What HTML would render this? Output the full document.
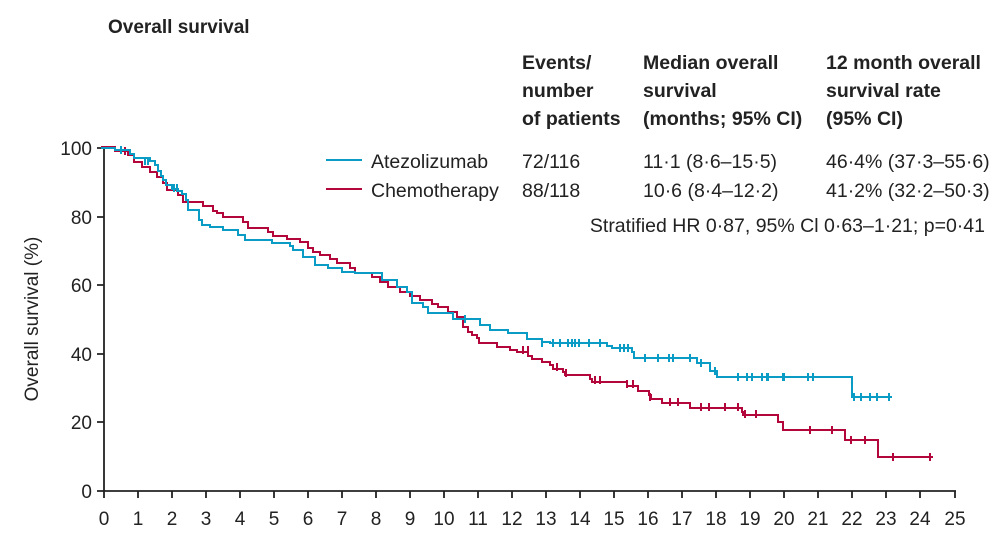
<!DOCTYPE html>
<html><head><meta charset="utf-8"><style>
body{margin:0;background:#fff;}
svg{display:block;font-family:"Liberation Sans",sans-serif;}
</style></head><body>
<svg width="1000" height="538" viewBox="0 0 1000 538" xmlns="http://www.w3.org/2000/svg">
<text x="108" y="33" font-size="19" font-weight="bold" fill="#222">Overall survival</text>
<g font-size="19.5" font-weight="bold" fill="#222">
<text x="522" y="69">Events/</text><text x="522" y="97">number</text><text x="522" y="125">of patients</text>
<text x="643" y="69">Median overall</text><text x="643" y="97">survival</text><text x="643" y="125">(months; 95% CI)</text>
<text x="826" y="69">12 month overall</text><text x="826" y="97">survival rate</text><text x="826" y="125">(95% CI)</text>
</g>
<g font-size="19.5" fill="#222">
<text x="371" y="168">Atezolizumab</text><text x="371" y="197">Chemotherapy</text>
<text x="522" y="168">72/116</text><text x="522" y="197">88/118</text>
<text x="643" y="168">11·1 (8·6–15·5)</text><text x="643" y="197">10·6 (8·4–12·2)</text>
<text x="826" y="168">46·4% (37·3–55·6)</text><text x="826" y="197">41·2% (32·2–50·3)</text>
<text x="985" y="232" text-anchor="end">Stratified HR 0·87, 95% Cl 0·63–1·21; p=0·41</text>
</g>
<line x1="326" y1="160" x2="362" y2="160" stroke="#0a9cc4" stroke-width="2"/>
<line x1="326" y1="189" x2="362" y2="189" stroke="#b3063a" stroke-width="2"/>
<!-- axes -->
<g stroke="#222" stroke-width="1.8" fill="none">
<line x1="104" y1="147" x2="104" y2="492"/>
<line x1="103" y1="491" x2="956" y2="491"/>
<path d="M97 148H104M97 217H104M97 285H104M97 354H104M97 422H104M97 491H104"/>
<path d="M104 491v7M138 491v7M172 491v7M206 491v7M240 491v7M274 491v7M308 491v7M342 491v7M376 491v7M410 491v7M444 491v7M478 491v7M512 491v7M546 491v7M580 491v7M614 491v7M648 491v7M682 491v7M716 491v7M750 491v7M784 491v7M818 491v7M852 491v7M886 491v7M920 491v7M955 491v7"/>
</g>
<g font-size="19" fill="#222" text-anchor="end">
<text x="92" y="155">100</text><text x="92" y="224">80</text><text x="92" y="292">60</text><text x="92" y="361">40</text><text x="92" y="429">20</text><text x="92" y="498">0</text>
</g>
<g font-size="19" fill="#222" text-anchor="middle">
<text x="104" y="525">0</text><text x="138" y="525">1</text><text x="172" y="525">2</text><text x="206" y="525">3</text><text x="240" y="525">4</text><text x="274" y="525">5</text><text x="308" y="525">6</text><text x="342" y="525">7</text><text x="376" y="525">8</text><text x="410" y="525">9</text><text x="444" y="525">10</text><text x="478" y="525">11</text><text x="512" y="525">12</text><text x="546" y="525">13</text><text x="580" y="525">14</text><text x="614" y="525">15</text><text x="648" y="525">16</text><text x="682" y="525">17</text><text x="716" y="525">18</text><text x="750" y="525">19</text><text x="784" y="525">20</text><text x="818" y="525">21</text><text x="852" y="525">22</text><text x="886" y="525">23</text><text x="920" y="525">24</text><text x="955" y="525">25</text>
</g>
<text transform="translate(38,319) rotate(-90)" font-size="19" fill="#222" text-anchor="middle">Overall survival (%)</text>
<!-- chemo -->
<path fill="none" stroke="#b3063a" stroke-width="2" d="M101 147H115V151H128V155H134V162H142V167H150V172H157V177H163V183H167V190H178V195H183V202H203V206H213V211H217V213H223V217H243V222H248V228H268V232H273V236H287V239H300V242H308V248H313V252H320V255H330V259H337V263H350V268H355V273H372V277H380V282H388V287H400V292H410V296H420V300H432V304H438V307H448V312H457V317H463V327H468V332H472V335H477V338H479V343H497V347H510V350H517V352H528V356H532V359H542V362H550V365H553V369H563V372H565V375H590V379H592V382H627V386H638V391H649V395H651V399H662V403H690V408H742V412H743V415H778V422H783V430H845V440H878V457H933"/>
<path stroke="#b3063a" stroke-width="2" d="M523 346v8M528 346v8M557 363v8M566 369v8M595 376v8M600 376v8M627 380v8M633 380v8M650 393v8M670 398v8M678 398v8M701 403v8M709 403v8M725 403v8M738 403v8M745 410v8M756 410v8M810 426v8M832 426v8M851 436v8M865 436v8M893 453v8M930 453v8M125 147v8"/>
<!-- atezo -->
<path fill="none" stroke="#0a9cc4" stroke-width="2" d="M101 148H115V150H130V154H134V158H150V161H155V165H158V171H161V176H163V180H166V185H172V189H178V191H182V194H186V200H188V210H199V220H202V225H210V227H223V230H238V235H245V240H272V243H290V246H293V250H303V257H315V265H328V268H342V272H355V273H382V280H397V287H407V292H412V303H423V307H428V313H453V319H480V325H490V330H508V333H527V339H542V342H550V343H607V346H612V348H632V352H634V358H697V363H710V371H717V377H852V397H892"/>
<path stroke="#0a9cc4" stroke-width="2" d="M145 157v8M148 157v8M174 184v8M177 184v8M465 315v8M542 339v8M553 339v8M560 339v8M568 339v8M572 339v8M575 339v8M579 339v8M589 339v8M600 339v8M620 344v8M624 344v8M628 344v8M645 354v8M658 354v8M669 354v8M673 354v8M690 354v8M701 359v8M715 367v8M738 373v8M747 373v8M752 373v8M762 373v8M767 373v8M768 373v8M783 373v8M784 373v8M808 373v8M813 373v8M854 393v8M861 393v8M870 393v8M877 393v8M889 393v8M121 146v8"/>
</svg>
</body></html>
